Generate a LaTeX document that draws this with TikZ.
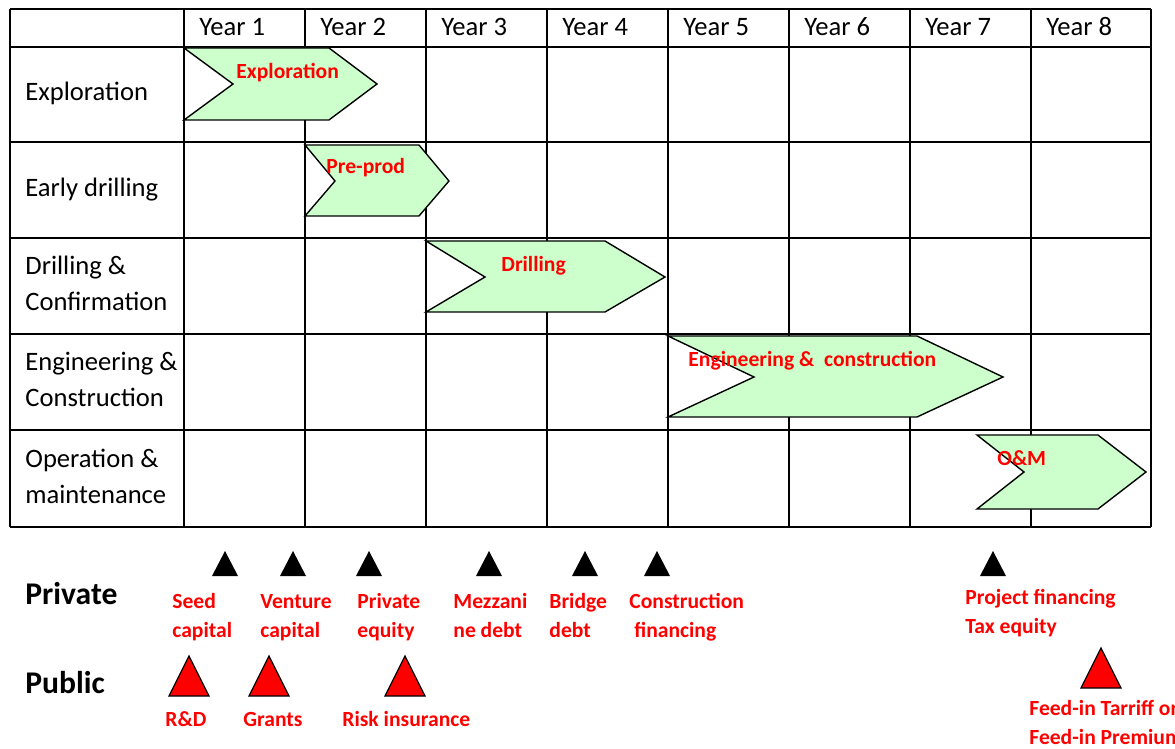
\documentclass[tikz,border=0pt]{standalone}
\usepackage{fontspec}
\setmainfont{Carlito}
\definecolor{chevgreen}{RGB}{204,255,204}

\begin{document}
\begin{tikzpicture}[x=0.5pt,y=-0.5pt,
  grid/.style={line width=1.2pt},
  chev/.style={draw,fill=chevgreen,line width=0.7pt},
  rowlab/.style={anchor=base west,inner sep=0,align=left,font=\fontsize{13.3}{18}\selectfont},
  barlab/.style={anchor=base west,inner sep=0,text=red,font=\bfseries\fontsize{10.8}{14.5}\selectfont},
  fundlab/.style={anchor=base west,inner sep=0,text=red,align=left,font=\bfseries\fontsize{10.8}{14.5}\selectfont},
  sidelab/.style={anchor=base west,inner sep=0,font=\bfseries\fontsize{15.8}{18}\selectfont}]
\useasboundingbox (0,0) rectangle (1175,749);
\clip (0,0) rectangle (1175,749);
% table
\foreach \y in {9,47,142,238,334,430,527}
  \draw[grid] (10,\y) -- (1151,\y);
\foreach \x in {10,184,305,426,547,668,789,910,1031,1151}
  \draw[grid] (\x,9) -- (\x,527);
\foreach \n in {1,...,8}
  \node[rowlab] (year\n) at ({199+121*(\n-1)},36) {Year \n};
\node[rowlab] (explor) at (25,101) {Exploration};
\node[rowlab] (early) at (25,197) {Early drilling};
\node[rowlab] (drillconf) at (25,311) {Drilling \&\\Confirmation};
\node[rowlab] (engcons) at (25,407) {Engineering \&\\Construction};
\node[rowlab] (opmaint) at (25,503) {Operation \&\\maintenance};
% chevrons
\foreach \l/\n/\r/\p/\t/\m/\b in {184/233/329/377/48/84/120,
    305/335/419/449/145/181/216, 426/485/605/665/241/277/312,
    668/754/917/1003/336/377/417, 977/1024/1098/1146/435/472/509}
  \draw[chev] (\l,\t) -- (\r,\t) -- (\p,\m) -- (\r,\b) -- (\l,\b) -- (\n,\m) -- cycle;
\node[barlab] (explorbar) at (236,79) {Exploration};
\node[barlab] (preprod) at (326,174) {Pre-prod};
\node[barlab] (drilling) at (501,272) {Drilling};
\node[barlab] (engbar) at (688,366) {Engineering \&\ \ construction};
\node[barlab] (om) at (997,466) {O\&M};
% funding
\node[sidelab] (private) at (25,604) {Private};
\node[sidelab] (public) at (25,693) {Public};
\foreach \x in {225,293,369,489,585,657,993}
  \fill (\x-13,576) -- (\x+13,576) -- (\x,551) -- cycle;
\foreach \x/\t in {189/656,269/656,405/656,1101/648}
  \draw[fill=red,line width=0.6pt] (\x-20,\t+40) -- (\x+20,\t+40) -- (\x,\t) -- cycle;
\node[fundlab] (seed) at (172,637) {Seed\\capital};
\node[fundlab] (venture) at (260,637) {Venture\\capital};
\node[fundlab] (equity) at (357,637) {Private\\equity};
\node[fundlab] (mezz) at (453,637) {Mezzani\\ne debt};
\node[fundlab] (bridge) at (549,637) {Bridge\\debt};
\node[fundlab] (consfin) at (629,637) {Construction\\\ financing};
\node[fundlab] (project) at (965,633) {Project financing\\Tax equity};
\node[fundlab] (rnd) at (165,726) {R\&D};
\node[fundlab] (grants) at (243,726) {Grants};
\node[fundlab] (risk) at (342,726) {Risk insurance};
\node[fundlab] (feedin) at (1029,744) {Feed-in Tarriff or\\Feed-in Premium};
\end{tikzpicture}
\end{document}
